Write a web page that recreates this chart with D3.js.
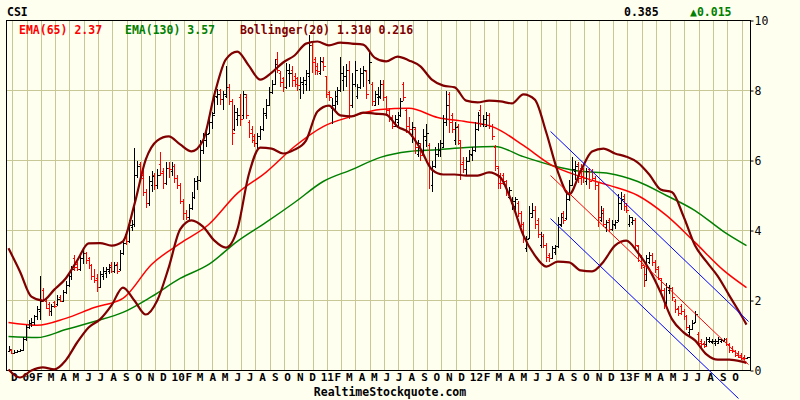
<!DOCTYPE html>
<html>
<head>
<meta charset="utf-8">
<script src="https://cdn.jsdelivr.net/npm/d3@7"></script>
<style>
body { margin: 0; background: #fffff0; }
text { font-family: "DejaVu Sans Mono", monospace; font-weight: bold; font-size: 11.5px; }
</style>
</head>
<body>
<svg width="800" height="400"></svg>
<script>
// weekly bars, week 0 = week of 17 Nov 2008
const opens = [.55,.60,.50,.52,.55,.60,.90,1.25,1.35,1.40,1.55,1.70,2.30,2.00,1.90,1.70,1.95,1.90,2.10,2.00,
  2.25,2.45,2.70,3.20,3.05,2.90,3.20,3.35,3.20,3.00,2.70,2.65,2.40,2.70,2.80,2.85,3.00,2.85,3.05,2.90,
  3.35,3.90,3.70,4.10,4.20,5.60,5.90,5.50,5.10,4.80,5.30,5.60,5.30,5.90,5.70,5.35,5.80,5.70,5.85,5.50,
  5.30,4.85,4.50,4.40,4.65,4.95,5.40,5.45,6.30,6.60,6.80,7.10,7.35,7.80,8.00,7.75,7.85,8.10,7.70,6.90,
  7.20,7.80,7.30,7.80,7.10,6.90,6.70,6.50,6.70,6.90,7.30,7.60,7.95,8.20,8.90,8.50,8.35,8.10,8.50,8.60,
  8.40,8.35,8.05,8.20,8.20,8.40,9.30,8.90,8.70,8.50,8.80,8.40,7.95,7.50,7.60,7.70,8.00,8.30,8.40,8.60,
  7.60,8.20,7.85,8.10,8.50,8.55,8.30,8.20,7.60,7.80,7.80,8.20,7.80,7.45,7.25,7.00,7.10,7.30,8.20,7.45,
  7.00,6.70,6.90,6.20,6.40,6.20,6.60,6.45,5.30,5.85,6.20,6.30,6.40,7.10,7.90,7.30,6.60,7.00,6.50,5.95,
  5.75,6.00,6.15,6.30,6.90,7.45,7.05,7.00,7.30,7.00,6.40,5.80,5.60,5.60,5.40,4.95,4.80,4.70,4.80,4.50,
  4.20,3.50,3.80,4.40,4.60,4.30,3.60,3.85,3.60,3.30,3.20,3.40,3.55,4.15,4.50,4.35,4.90,5.30,5.70,5.90,
  5.80,5.75,5.40,5.75,5.70,5.50,5.30,4.30,4.60,4.10,4.30,4.05,4.15,4.30,4.80,5.00,4.70,4.20,4.25,4.30,
  3.55,3.25,2.95,2.60,3.10,3.30,3.10,2.95,2.60,2.30,1.95,2.30,2.35,2.00,1.80,1.85,1.70,1.55,1.10,1.20,
  1.40,1.05,.85,.80,.75,.85,.82,.80,.80,.85,.85,.90,.75,.65,.55,.50,.45,.40,.37];
const highs = [.69,.62,.58,.60,.62,.95,1.30,1.45,1.50,1.60,1.85,2.70,2.35,2.05,1.95,1.90,2.00,2.15,2.15,2.30,
  2.55,2.80,3.00,3.30,3.10,3.30,3.45,3.40,3.25,3.05,2.90,2.75,2.85,2.95,2.95,3.05,3.10,3.10,3.10,3.45,
  3.75,3.95,4.30,4.30,6.37,6.00,5.95,5.80,5.20,5.55,5.70,5.65,5.75,6.25,5.80,5.95,5.95,5.95,5.90,5.60,
  5.35,4.90,4.60,4.75,5.10,5.50,5.55,6.60,6.80,6.90,7.25,7.40,8.00,8.05,8.05,8.00,8.70,8.20,7.75,7.60,
  7.50,7.90,8.00,7.90,7.15,7.00,6.75,6.80,7.00,7.50,7.75,8.10,8.30,8.90,9.10,8.55,8.40,8.80,8.75,8.70,
  8.50,8.40,8.40,8.40,8.60,9.60,9.35,8.95,8.80,8.95,8.95,8.40,8.00,7.80,8.00,8.10,8.95,8.70,8.75,8.85,
  8.50,8.85,8.20,8.65,8.70,8.60,9.10,8.25,8.00,8.10,8.30,8.30,7.85,7.50,7.30,7.30,7.40,7.80,8.25,7.50,
  7.25,7.10,6.95,6.60,6.50,6.90,7.05,6.50,6.00,6.40,6.50,6.60,7.30,8.00,7.95,7.35,7.10,7.05,6.55,6.10,
  6.10,6.30,6.40,7.10,7.40,7.60,7.30,7.40,7.35,7.05,6.45,5.85,5.65,5.65,5.45,5.25,4.95,4.95,4.85,4.55,
  4.25,3.85,4.70,4.80,4.70,4.35,3.95,3.90,3.65,3.35,3.55,3.60,4.40,4.50,4.55,5.15,5.45,6.10,6.00,5.95,
  5.90,5.80,5.80,5.80,5.75,5.55,5.35,4.70,4.65,4.30,4.35,4.30,4.30,5.05,5.10,5.05,4.80,4.45,4.40,4.35,
  3.60,3.30,3.00,3.30,3.40,3.35,3.15,3.00,2.65,2.35,2.50,2.45,2.40,2.05,1.85,1.90,1.75,1.60,1.30,1.45,
  1.70,1.10,.90,.85,.95,.95,.90,.90,.95,.90,.92,.92,.78,.70,.60,.55,.50,.45,.40];
const lows = [.52,.46,.47,.50,.52,.58,.85,1.20,1.25,1.30,1.45,1.45,1.95,1.75,1.55,1.55,1.80,1.85,1.95,1.95,
  2.20,2.40,2.60,2.85,2.85,2.85,3.05,3.05,2.90,2.60,2.50,2.25,2.35,2.60,2.65,2.75,2.80,2.80,2.75,2.85,
  3.30,3.60,3.65,4.00,4.10,5.50,5.50,5.00,4.65,4.70,5.10,5.15,5.20,5.55,5.20,5.30,5.50,5.55,5.35,5.20,
  4.75,4.30,4.30,4.30,4.60,4.90,5.15,5.40,6.20,6.40,6.75,6.90,7.35,7.60,7.60,7.45,7.80,7.60,6.45,6.85,
  7.00,7.00,7.20,7.20,6.65,6.50,6.40,6.30,6.60,6.85,7.20,7.55,7.90,8.20,8.50,8.10,7.95,8.05,8.10,8.10,
  8.10,8.00,7.75,7.90,8.00,8.00,8.50,8.45,8.45,8.45,8.55,7.80,7.70,7.05,7.45,7.60,7.95,8.00,8.10,7.20,
  7.50,8.10,7.75,8.05,8.10,7.75,8.20,7.55,7.55,7.60,7.75,7.70,7.30,7.10,6.90,6.95,7.00,7.25,7.70,6.80,
  6.80,6.50,6.20,6.10,6.00,6.15,6.40,5.20,5.10,5.80,6.10,6.10,6.35,7.00,6.80,6.80,6.45,6.45,5.45,5.65,
  5.60,5.95,6.00,6.25,6.85,6.95,6.95,6.95,6.90,6.60,5.70,5.20,5.20,5.30,5.00,4.90,4.60,4.60,4.40,4.10,
  3.65,3.40,3.75,4.35,4.05,3.80,3.50,3.50,3.10,3.10,3.20,3.30,3.50,4.10,4.20,4.30,4.85,5.30,5.45,5.35,
  5.30,5.35,5.30,5.20,5.45,5.15,4.10,4.25,4.10,3.95,3.95,4.00,4.05,4.25,4.60,4.55,4.50,4.10,4.15,3.45,
  3.10,2.90,2.40,2.55,3.05,3.00,2.80,2.60,2.25,1.75,1.90,2.20,2.00,1.65,1.55,1.60,1.45,1.15,.95,1.15,
  1.35,.70,.60,.65,.70,.80,.75,.70,.78,.80,.82,.70,.50,.50,.40,.35,.30,.30,.36];
const closes = [.62,.50,.52,.55,.58,.90,1.25,1.35,1.40,1.55,1.75,2.00,2.05,1.80,1.70,1.85,1.85,2.05,2.00,2.25,
  2.45,2.70,2.90,2.95,2.90,3.20,3.35,3.15,3.00,2.70,2.60,2.40,2.75,2.85,2.90,2.95,2.85,3.00,2.85,3.35,
  3.65,3.70,4.15,4.20,5.60,5.85,5.60,5.10,4.80,5.40,5.55,5.30,5.60,5.65,5.35,5.80,5.75,5.85,5.50,5.30,
  4.85,4.50,4.40,4.65,4.95,5.40,5.45,6.30,6.60,6.75,7.10,7.30,7.85,7.90,7.75,7.90,8.10,7.70,6.80,7.40,
  7.30,7.20,7.90,7.30,6.80,6.60,6.50,6.70,6.90,7.35,7.60,7.95,8.20,8.75,8.60,8.25,8.10,8.60,8.50,8.30,
  8.20,8.15,8.25,8.30,8.50,9.30,8.80,8.60,8.55,8.85,8.70,7.90,7.80,7.60,7.85,8.00,8.50,8.40,8.60,7.60,
  8.20,8.60,8.10,8.50,8.60,7.90,8.80,7.70,7.90,7.85,8.20,7.80,7.45,7.20,7.00,7.20,7.30,7.70,7.80,7.00,
  6.90,6.95,6.40,6.50,6.15,6.70,6.80,5.80,5.85,6.20,6.30,6.50,7.10,7.60,7.10,6.90,6.95,6.60,5.90,5.75,
  6.00,6.20,6.30,6.90,7.30,7.05,7.20,7.30,7.00,6.70,5.85,5.35,5.35,5.40,5.10,5.15,4.85,4.90,4.50,4.20,
  3.80,3.75,4.50,4.60,4.20,3.90,3.85,3.60,3.25,3.20,3.50,3.55,4.20,4.40,4.30,4.90,5.30,5.75,5.85,5.50,
  5.55,5.50,5.70,5.40,5.50,5.30,4.40,4.50,4.20,4.25,4.05,4.20,4.25,4.80,4.90,4.70,4.60,4.40,4.30,3.60,
  3.30,3.00,2.75,3.20,3.30,3.10,2.90,2.65,2.30,1.90,2.40,2.35,2.10,1.75,1.65,1.70,1.55,1.25,1.20,1.35,
  1.60,.80,.75,.70,.90,.85,.85,.85,.90,.88,.90,.75,.60,.55,.45,.40,.37,.37,.385];

// EMA lines, read every 10 weeks
const emaWeeks = [0,10,20,30,40,50,60,70,80,90,100,110,120,130,140,150,160,170,180,190,200,210,220,230,240,250,258];
const ema65 = [1.37,1.29,1.49,1.8,2.06,3.03,3.63,4.17,5.06,5.66,6.4,6.97,7.26,7.46,7.49,7.23,7.11,6.94,6.43,5.86,5.54,5.29,5.0,4.43,3.66,2.86,2.37];
const ema130 = [0.97,0.94,1.17,1.4,1.66,2.11,2.63,3.03,3.69,4.23,4.8,5.4,5.74,6.09,6.26,6.31,6.37,6.4,6.11,5.86,5.69,5.63,5.4,5.0,4.57,3.97,3.57];

// Bollinger(20) bands, read every 4 weeks
const bbWeeks = d3.range(0, 257, 4).concat([258]);
const bbUpper = [3.49,2.83,2.11,2.0,2.31,2.63,3.14,3.63,3.64,3.57,3.69,4.74,6.03,6.57,6.69,6.46,6.26,6.57,7.89,8.89,
  9.11,8.71,8.31,8.51,8.8,9.0,9.34,9.4,9.29,9.37,9.34,9.31,8.94,8.83,8.97,8.86,8.69,8.31,8.14,8.09,
  7.71,7.66,7.71,7.69,7.63,7.89,7.74,6.8,5.69,5.03,5.69,6.26,6.34,6.2,6.11,5.94,5.6,5.17,5.09,4.4,
  3.57,3.11,2.69,2.14,1.6,1.31];
const bbLower = [0.03,-0.2,0.0,0.09,0.03,0.29,0.8,1.23,1.46,1.86,2.37,2.0,1.6,2.0,2.94,4.03,4.29,4.11,3.71,3.51,
  4.03,5.6,6.37,6.34,6.2,6.31,6.57,7.4,7.57,7.29,7.26,7.37,7.34,7.31,6.97,6.8,6.34,5.74,5.6,5.6,
  5.57,5.57,5.66,5.51,4.8,3.86,3.29,2.97,3.11,3.09,2.86,2.83,3.11,3.57,3.71,3.37,2.89,2.23,1.46,1.09,
  0.86,0.46,0.31,0.31,0.26,0.216];

// trend channel
const chanWeeks = [189.5, 258.7];
const chanUpper = [6.83, 1.40];
const chanMid = [5.57, 0.17];
const chanLowWeeks = [189.5, 255.2];
const chanLower = [4.34, -0.80];

const yTicks = [0, 2, 4, 6, 8, 10];
const monthLabels = ["D","09","F","M","A","M","J","J","A","S","O","N",
  "D","10","F","M","A","M","J","J","A","S","O","N",
  "D","11","F","M","A","M","J","J","A","S","O","N",
  "D","12","F","M","A","M","J","J","A","S","O","N",
  "D","13","F","M","A","M","J","J","A","S","O"];

const svg = d3.select('svg');
const plotL = 6.5, plotR = 750.5, plotT = 20.5, plotB = 370.5;

svg.append('rect').attr('width', 800).attr('height', 400).attr('fill', '#fffff0');

let x = d3.scaleLinear().domain([0, 258]).range([8.5, 746.5]);
let y = d3.scaleLinear().domain([0, 10]).range([plotB, plotT]);

const weekZero = Date.UTC(2008, 10, 17);
const toWeek = d => (d - weekZero) / (7 * 864e5);

// grid
let grid = svg.append('g').attr('stroke', '#c8c896').attr('shape-rendering', 'crispEdges');
grid.selectAll('.vg')
    .data(d3.range(1.3, 258, 5))
    .enter().append('line')
    .attr('x1', d => Math.round(x(d)) + 0.5).attr('x2', d => Math.round(x(d)) + 0.5)
    .attr('y1', plotT).attr('y2', plotB);
grid.selectAll('.hg')
    .data(yTicks.filter(d => d > 0 && d < 10))
    .enter().append('line')
    .attr('x1', plotL).attr('x2', plotR)
    .attr('y1', d => y(d)).attr('y2', d => y(d));

// frame
svg.append('rect')
    .attr('x', plotL).attr('y', plotT)
    .attr('width', plotR - plotL).attr('height', plotB - plotT)
    .attr('fill', 'none').attr('stroke', '#000')
    .attr('shape-rendering', 'crispEdges');

// right axis
let yAxis = svg.append('g')
    .attr('transform', `translate(${plotR}, 0)`)
    .call(d3.axisRight(y).tickValues(yTicks).tickSize(3).tickPadding(1).tickFormat(d3.format('d')));
yAxis.select('.domain').remove();
yAxis.selectAll('text')
    .style('font-family', '"DejaVu Sans Mono", monospace')
    .style('font-size', '11.5px')
    .style('font-weight', 'normal')
    .attr('fill', '#000');
yAxis.selectAll('line').attr('stroke', '#000');

// month labels
let months = d3.utcMonth.range(new Date(Date.UTC(2008, 11, 1)), new Date(Date.UTC(2013, 10, 1)));
svg.append('g').selectAll('text')
    .data(months)
    .enter().append('text')
    .attr('x', (d, i) => monthLabels[i].length > 1 ? x(toWeek(d)) - 4.5 : x(toWeek(d)))
    .attr('y', 381)
    .attr('text-anchor', (d, i) => monthLabels[i].length > 1 ? 'start' : 'middle')
    .style('font-size', '11px')
    .text((d, i) => monthLabels[i]);

// line indicators
let lineGen = (weeks) => d3.line()
    .x((d, i) => x(weeks[i]))
    .y(d => y(d))
    .curve(d3.curveMonotoneX);

svg.append('path').datum(ema130)
    .attr('d', lineGen(emaWeeks))
    .attr('fill', 'none').attr('stroke', '#008000').attr('stroke-width', 1.5);
svg.append('path').datum(ema65)
    .attr('d', lineGen(emaWeeks))
    .attr('fill', 'none').attr('stroke', '#ff0000').attr('stroke-width', 1.5);

// price bars
let bars = svg.append('g').attr('shape-rendering', 'crispEdges');
let bar = bars.selectAll('g')
    .data(closes)
    .enter().append('g')
    .attr('stroke', (c, i) => c < opens[i] ? '#ff0000' : '#000000');
bar.append('line')
    .attr('x1', (c, i) => Math.round(x(i)) + 0.5).attr('x2', (c, i) => Math.round(x(i)) + 0.5)
    .attr('y1', (c, i) => y(highs[i])).attr('y2', (c, i) => y(lows[i]));
bar.append('line')
    .attr('x1', (c, i) => Math.round(x(i)) - 1.5).attr('x2', (c, i) => Math.round(x(i)) + 0.5)
    .attr('y1', (c, i) => Math.round(y(opens[i])) + 0.5).attr('y2', (c, i) => Math.round(y(opens[i])) + 0.5);
bar.append('line')
    .attr('x1', (c, i) => Math.round(x(i)) + 0.5).attr('x2', (c, i) => Math.round(x(i)) + 2.5)
    .attr('y1', c => Math.round(y(c)) + 0.5).attr('y2', c => Math.round(y(c)) + 0.5);

// bollinger bands
[bbUpper, bbLower].forEach(band => {
    svg.append('path').datum(band)
        .attr('d', lineGen(bbWeeks))
        .attr('fill', 'none').attr('stroke', '#800000').attr('stroke-width', 2.2);
});

// trend channel
let straight = (weeks) => d3.line().x((d, i) => x(weeks[i])).y(d => y(d));
svg.append('path').datum(chanUpper).attr('d', straight(chanWeeks))
    .attr('fill', 'none').attr('stroke', '#0000ff').attr('stroke-width', 1);
svg.append('path').datum(chanMid).attr('d', straight(chanWeeks))
    .attr('fill', 'none').attr('stroke', '#ff0000').attr('stroke-width', 1);
svg.append('path').datum(chanLower).attr('d', straight(chanLowWeeks))
    .attr('fill', 'none').attr('stroke', '#0000ff').attr('stroke-width', 1);

// header and legend
svg.append('text').attr('x', 7).attr('y', 16).attr('font-size', '12px').text('CSI');
svg.append('text').attr('x', 624).attr('y', 16).text('0.385');
svg.append('text').attr('x', 690).attr('y', 16).attr('fill', '#008000').text('\u25B20.015');

svg.append('text').attr('x', 19).attr('y', 34).attr('fill', '#ff0000').text('EMA(65) 2.37');
svg.append('text').attr('x', 125).attr('y', 34).attr('fill', '#008000').text('EMA(130) 3.57');
svg.append('text').attr('x', 240).attr('y', 34).attr('fill', '#800000').text('Bollinger(20) 1.310 0.216');

svg.append('text')
    .attr('x', 390).attr('y', 396)
    .attr('text-anchor', 'middle')
    .text('RealtimeStockquote.com');
</script>
</body>
</html>
